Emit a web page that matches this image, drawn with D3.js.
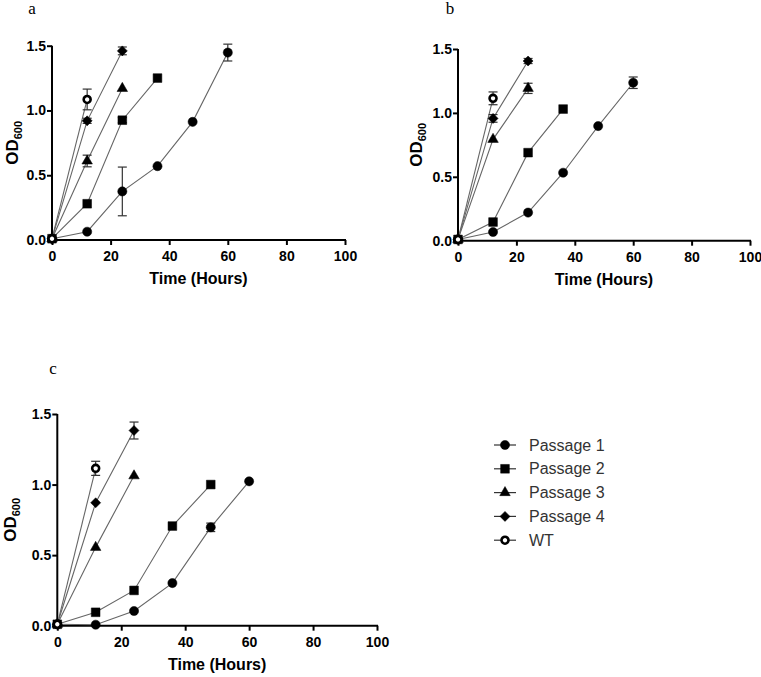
<!DOCTYPE html>
<html>
<head>
<meta charset="utf-8">
<script src="https://cdn.jsdelivr.net/npm/d3@7"></script>
<style>
  html, body { margin: 0; padding: 0; background: #fff; }
  svg { display: block; }
</style>
</head>
<body>
<svg id="chart" width="761" height="677"></svg>
<script>
// ---------------- DATA ----------------
const hours = [0, 12, 24, 36, 48, 60];
const seriesNames = ["Passage 1", "Passage 2", "Passage 3", "Passage 4", "WT"];
const xTicks = [0, 20, 40, 60, 80, 100];
const yTicks = [0.0, 0.5, 1.0, 1.5];
const panelLabels = ["a", "b", "c"];

// Panel a
const aP1 = [0.01, 0.064, 0.375, 0.57, 0.912, 1.447];
const aP1Err = [0, 0, 0.188, 0, 0, 0.065];
const aP2 = [0.01, 0.28, 0.925, 1.25];
const aP2Err = [0, 0, 0.02, 0];
const aP3 = [0.01, 0.61, 1.17];
const aP3Err = [0, 0.045, 0];
const aP4 = [0.01, 0.92, 1.46];
const aP4Err = [0, 0.02, 0.03];
const aWT = [0.01, 1.085];
const aWTErr = [0, 0.08];

// Panel b
const bP1 = [0.01, 0.068, 0.22, 0.532, 0.897, 1.236];
const bP1Err = [0, 0, 0, 0, 0, 0.045];
const bP2 = [0.01, 0.146, 0.689, 1.03];
const bP2Err = [0, 0, 0, 0];
const bP3 = [0.01, 0.793, 1.192];
const bP3Err = [0, 0, 0.04];
const bP4 = [0.01, 0.957, 1.406];
const bP4Err = [0, 0.03, 0.02];
const bWT = [0.01, 1.114];
const bWTErr = [0, 0.05];

// Panel c
const cP1 = [0.01, 0.007, 0.104, 0.302, 0.697, 1.023];
const cP1Err = [0, 0, 0, 0, 0.03, 0];
const cP2 = [0.01, 0.095, 0.25, 0.706, 1.0];
const cP2Err = [0, 0, 0, 0, 0];
const cP3 = [0.01, 0.555, 1.062];
const cP3Err = [0, 0, 0];
const cP4 = [0.01, 0.871, 1.383];
const cP4Err = [0, 0, 0.06];
const cWT = [0.01, 1.115];
const cWTErr = [0, 0.05];

// ---------------- LAYOUT ----------------
const panels = [
  { label: panelLabels[0], x0: 52, x1: 345, y0: 240, y1: 45.7, labelX: 32, labelY: 14, titleX: 12,
    series: [[aP1, aP1Err], [aP2, aP2Err], [aP3, aP3Err], [aP4, aP4Err], [aWT, aWTErr]] },
  { label: panelLabels[1], x0: 458, x1: 750, y0: 240.7, y1: 49, labelX: 450, labelY: 14, titleX: 416,
    series: [[bP1, bP1Err], [bP2, bP2Err], [bP3, bP3Err], [bP4, bP4Err], [bWT, bWTErr]] },
  { label: panelLabels[2], x0: 57.3, x1: 377, y0: 625.7, y1: 414, labelX: 53, labelY: 374, titleX: 10,
    series: [[cP1, cP1Err], [cP2, cP2Err], [cP3, cP3Err], [cP4, cP4Err], [cWT, cWTErr]] }
];

const symbolDefs = [
  { type: d3.symbolCircle, size: 66, rotate: 0, open: false },
  { type: d3.symbolSquare, size: 76, rotate: 0, open: false },
  { type: d3.symbolTriangle, size: 48, rotate: 0, open: false },
  { type: d3.symbolSquare, size: 50, rotate: 45, open: false },
  { type: d3.symbolCircle, size: 38, rotate: 0, open: true }
];

const svg = d3.select("#chart");
const fontSans = "Arial, 'Liberation Sans', Helvetica, sans-serif";

function drawMarker(g, i, x, y) {
  const s = symbolDefs[i];
  g.append("path")
    .attr("d", d3.symbol().type(s.type).size(s.size)())
    .attr("transform", `translate(${x},${y}) rotate(${s.rotate})`)
    .attr("fill", s.open ? "#fff" : "#000")
    .attr("stroke", "#000")
    .attr("stroke-width", s.open ? 2.6 : 0.5);
}

panels.forEach(p => {
  const x = d3.scaleLinear().domain([0, 100]).range([p.x0, p.x1]);
  const y = d3.scaleLinear().domain([0, 1.5]).range([p.y0, p.y1]);
  const g = svg.append("g");

  // axes
  const xAxis = d3.axisBottom(x).tickValues(xTicks).tickFormat(d3.format("d"))
    .tickSize(5).tickSizeOuter(0).tickPadding(6);
  const yAxis = d3.axisLeft(y).tickValues(yTicks).tickFormat(d3.format(".1f"))
    .tickSize(5).tickSizeOuter(0).tickPadding(1);

  const gx = g.append("g").attr("transform", `translate(0,${p.y0})`).call(xAxis);
  const gy = g.append("g").attr("transform", `translate(${p.x0},0)`).call(yAxis);
  [gx, gy].forEach(ax => {
    ax.select(".domain").attr("stroke", "#000").attr("stroke-width", 2);
    ax.selectAll(".tick line").attr("stroke", "#000").attr("stroke-width", 2);
    ax.selectAll(".tick text").attr("fill", "#000")
      .style("font-family", fontSans).style("font-size", "14px").style("font-weight", "bold");
  });
  // extend domain lines slightly to cover the corner
  gx.select(".domain").attr("d", `M${p.x0 - 1},0H${p.x1 + 1}`);
  gy.select(".domain").attr("d", `M0,${p.y0 + 1}V${p.y1}`);

  // x title
  g.append("text")
    .attr("x", (p.x0 + p.x1) / 2).attr("y", p.y0 + 44)
    .attr("text-anchor", "middle")
    .style("font-family", fontSans).style("font-size", "16px").style("font-weight", "bold")
    .text("Time (Hours)");

  // y title OD600
  const yt = g.append("text")
    .attr("transform", `translate(${p.titleX + 6},${(p.y0 + p.y1) / 2}) rotate(-90)`)
    .attr("text-anchor", "middle")
    .style("font-family", fontSans).style("font-weight", "bold");
  yt.append("tspan").style("font-size", "17px").text("OD");
  yt.append("tspan").style("font-size", "11px").attr("dy", 4).text("600");

  // panel letter
  svg.append("text")
    .attr("x", p.labelX).attr("y", p.labelY)
    .attr("text-anchor", "middle")
    .style("font-family", "'Liberation Serif', 'Times New Roman', serif")
    .style("font-size", "17px")
    .text(p.label);

  // lines
  const line = d3.line().x((d, i) => x(hours[i])).y(d => y(d));
  p.series.forEach(([vals, errs], si) => {
    g.append("path").datum(vals)
      .attr("d", line)
      .attr("fill", "none")
      .attr("stroke", "#666")
      .attr("stroke-width", 1.1);
  });
  // error bars
  p.series.forEach(([vals, errs], si) => {
    vals.forEach((v, i) => {
      const e = errs[i];
      if (!e) return;
      const cx = x(hours[i]);
      const yt1 = y(v + e), yb1 = y(v - e);
      g.append("line").attr("x1", cx).attr("x2", cx).attr("y1", yt1).attr("y2", yb1)
        .attr("stroke", "#333").attr("stroke-width", 1.2);
      [yt1, yb1].forEach(yy => {
        g.append("line").attr("x1", cx - 4.5).attr("x2", cx + 4.5).attr("y1", yy).attr("y2", yy)
          .attr("stroke", "#333").attr("stroke-width", 1.2);
      });
    });
  });
  // markers
  p.series.forEach(([vals, errs], si) => {
    vals.forEach((v, i) => drawMarker(g, si, x(hours[i]), y(v)));
  });
});

// ---------------- LEGEND ----------------
const legend = svg.append("g");
const legX = 505, legY0 = 445, legStep = 23.8;
seriesNames.forEach((name, i) => {
  const yy = legY0 + i * legStep;
  legend.append("line").attr("x1", legX - 11).attr("x2", legX + 11).attr("y1", yy).attr("y2", yy)
    .attr("stroke", "#333").attr("stroke-width", 1.2);
  drawMarker(legend, i, legX, yy);
  legend.append("text")
    .attr("x", 529).attr("y", yy).attr("dy", "0.35em")
    .attr("fill", "#333")
    .style("font-family", fontSans).style("font-size", "16px")
    .text(name);
});
</script>
</body>
</html>
